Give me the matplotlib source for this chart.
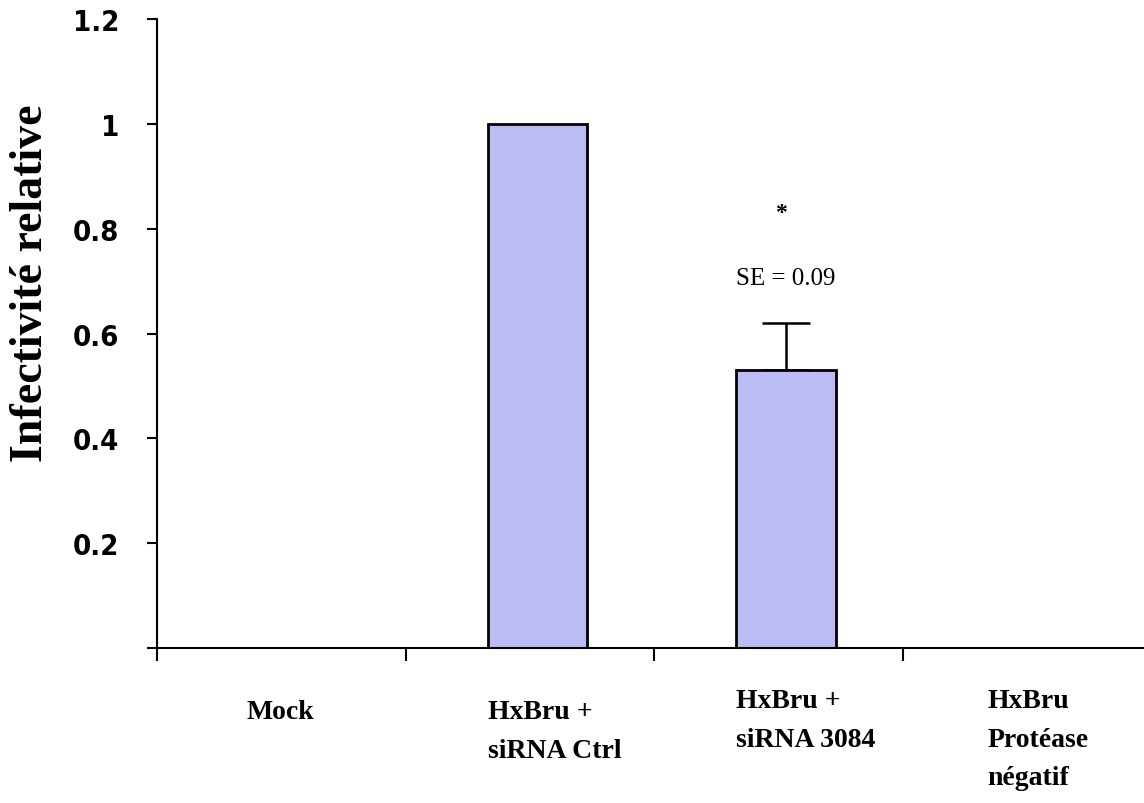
import matplotlib
matplotlib.use("Agg")
import matplotlib.pyplot as plt
import numpy as np

# Données : infectivité relative par condition
conditions = ["Mock", "HxBru +\nsiRNA Ctrl", "HxBru +\nsiRNA 3084", "HxBru\nProtéase\nnégatif"]
infectivite = [0.0, 1.0, 0.53, 0.0]
erreur = [0.0, 0.0, 0.09, 0.0]
yticks = [0, 0.2, 0.4, 0.6, 0.8, 1.0, 1.2]
ytick_labels = ["", "0.2", "0.4", "0.6", "0.8", "1", "1.2"]

serif = "Liberation Serif"
barre_couleur = "#bcbcf4"

fig = plt.figure(figsize=(11.44, 8.04), dpi=100)
ax = fig.add_axes([0.1372, 0.1928, 0.8628, 0.7823])

x = np.arange(len(conditions))
pos = x + 0.53  # barres légèrement décalées dans chaque case

# Barres (seulement celles qui ont une valeur)
avec_valeur = [i for i, v in enumerate(infectivite) if v > 0]
ax.bar(pos[avec_valeur], [infectivite[i] for i in avec_valeur], width=0.4,
       color=barre_couleur, edgecolor="black", linewidth=2, zorder=2)

# Barre d'erreur supérieure pour siRNA 3084
i = 2
ax.errorbar(pos[i], infectivite[i], yerr=[[0], [erreur[i]]], fmt="none",
            ecolor="black", elinewidth=1.8, capsize=17, capthick=1.8, zorder=1)
ax.text(pos[i], infectivite[i] + erreur[i] + 0.085, "SE = %.2f" % erreur[i],
        ha="center", va="center", fontsize=18, family=serif)
ax.text(pos[i] - 0.02, infectivite[i] + erreur[i] + 0.21, "*",
        ha="center", va="center", fontsize=17, family=serif, fontweight="bold")

ax.set_xlim(0, 3.97)
ax.set_ylim(0, 1.2)
ax.set_xticks(x)
ax.set_xticklabels([])
ax.set_yticks(yticks)
ax.set_yticklabels(ytick_labels)

for lbl in ax.get_yticklabels():
    lbl.set_family("DejaVu Sans")
    lbl.set_fontstretch("condensed")
    lbl.set_fontweight("bold")
    lbl.set_fontsize(21)

ax.tick_params(axis="y", direction="out", length=7, width=1.5, pad=20)
ax.tick_params(axis="x", direction="out", length=9, width=1.5)

ax.spines["top"].set_visible(False)
ax.spines["right"].set_visible(False)
ax.spines["left"].set_linewidth(1.5)
ax.spines["bottom"].set_linewidth(1.5)
ax.spines["left"].set_bounds(0, 1.2)

# Étiquettes des conditions sous l'axe
label_x = [0.36, 1.33, 2.33, 3.34]
label_y = [-0.098, -0.098, -0.077, -0.077]
for lx, ly, txt in zip(label_x, label_y, conditions):
    ax.text(lx, ly, txt, ha="left", va="top", fontsize=20, family=serif,
            fontweight="bold", linespacing=1.7, multialignment="left",
            transform=ax.transData, clip_on=False)

fig.text(0.027, 1 - 283 / 804, "Infectivité relative", rotation=90,
         ha="center", va="center", fontsize=33, family=serif, fontweight="bold")

fig.savefig("out.png", dpi=100)
